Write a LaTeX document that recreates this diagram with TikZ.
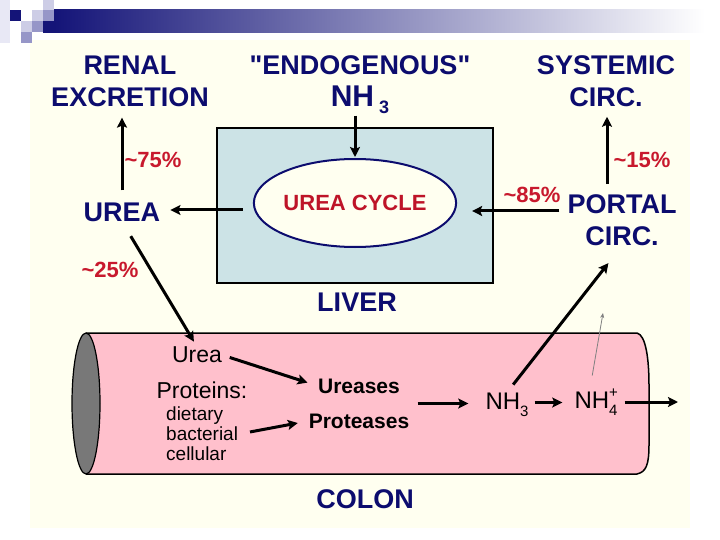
\documentclass[tikz,border=0pt]{standalone}
\usepackage{fontspec}
\setmainfont{Liberation Sans}
\newfontfamily\plainsans{Liberation Sans}
\usetikzlibrary{arrows.meta,shapes.geometric,fit}
\definecolor{navy}{RGB}{12,12,110}
\definecolor{pctred}{RGB}{200,25,45}
\definecolor{cyclered}{RGB}{190,20,40}
\definecolor{cream}{RGB}{255,255,240}
\definecolor{liverblue}{RGB}{204,227,230}
\definecolor{colonpink}{RGB}{255,192,204}
\definecolor{capgray}{RGB}{120,120,120}
\definecolor{logonavy}{RGB}{20,20,120}
\definecolor{logomid}{RGB}{150,150,200}
\definecolor{logolight}{RGB}{205,205,230}
\definecolor{logopale}{RGB}{232,232,245}
\definecolor{barmid}{RGB}{170,170,205}
\begin{document}
\begin{tikzpicture}[x=1pt,y=-1pt,
  big/.style={font=\bfseries\fontsize{27}{32}\selectfont, text=navy, inner sep=0pt, align=center},
  pct/.style={font=\bfseries\fontsize{22}{24}\selectfont, text=pctred, inner sep=0pt},
  inner/.style={font=\fontsize{23}{26}\selectfont, text=black, inner sep=0pt},
  enz/.style={font=\bfseries\fontsize{21}{24}\selectfont, text=black, inner sep=0pt},
  small/.style={font=\fontsize{19}{20}\selectfont, text=black, inner sep=0pt, align=left},
  arr/.style={line width=3pt, -{Stealth[length=10pt,width=10pt,inset=2pt]}},
  thinarr/.style={line width=0.8pt, draw=gray, -{Stealth[length=5pt,width=4pt]}},
]
\useasboundingbox (0,0) rectangle (720,540);
\fill[white] (0,0) rectangle (720,540);
\fill[cream] (30,40) rectangle (690,528);
% logo
\fill[logopale] (0,0) rectangle (10,43);
\fill[logonavy] (10,10) rectangle (21,21);
\fill[logolight] (43,0) rectangle (54,10);
\fill[logolight] (32,10) rectangle (43,21);
\fill[logomid] (43,10) rectangle (54,21);
\fill[logolight] (21,21) rectangle (32,32);
\fill[logomid] (32,21) rectangle (43,32);
\fill[logomid] (21,32) rectangle (32,43);
\fill[logonavy] (43,21) rectangle (55,33);
\shade[left color=logonavy, middle color=barmid, right color=white] (54,10) rectangle (705,33);

% liver
\node[draw=black, line width=2.5pt, fill=liverblue, minimum width=276pt, minimum height=155pt, inner sep=0pt] (liverbox) at (355,205.5) {};
\node[ellipse, draw=navy, line width=2pt, fill=cream, minimum width=190pt, minimum height=88pt, inner sep=0pt,
      font=\bfseries\fontsize{22}{24}\selectfont, text=cyclered] (cycle) at (355,203) {UREA CYCLE};

% colon
\path[fill=colonpink, draw=black, line width=1.5pt] (86,333) -- (637,333)
   .. controls (646,335) and (649,360) .. (649,385) -- (649,445)
   .. controls (649,465) and (646,472) .. (637,474) -- (86,474);
\node[ellipse, draw=black, line width=1.2pt, fill=capgray, minimum width=28pt, minimum height=141pt, inner sep=0pt] (cap) at (86,403.5) {};

% labels
\node[big] (renal) at (130,81) {RENAL\\EXCRETION};
\node[big, font=\plainsans\bfseries\fontsize{27}{32}\selectfont] (endo) at (360,84.3) {"ENDOGENOUS"\\{\fontsize{30}{32}\selectfont NH\,\raisebox{-7pt}{\fontsize{18}{18}\selectfont 3}}};
\node[big] (systemic) at (606,81) {SYSTEMIC\\CIRC.};
\node[big] (urea) at (122,212) {UREA};
\node[big] (portal) at (622,220) {PORTAL\\CIRC.};
\node[big] (liver) at (357,302) {LIVER};
\node[big] (colon) at (365,499) {COLON};

\node[pct] (p75) at (153,160) {\textasciitilde75\%};
\node[pct] (p15) at (642,160) {\textasciitilde15\%};
\node[pct] (p25) at (110,270) {\textasciitilde25\%};
\node[pct] (p85) at (532,195) {\textasciitilde85\%};

\node[inner] (ureac) at (197,355) {Urea};
\node[inner] (proteins) at (202,390) {Proteins:};
\node[small, anchor=north west] (sources) at (166,407) {dietary\\bacterial\\cellular};
\node[enz] (ureases) at (359,386) {Ureases};
\node[enz] (proteases) at (359,421) {Proteases};
\node[fit=(ureases)(proteases), inner sep=0pt] (enzymes) {};
\node[inner, font=\fontsize{24}{26}\selectfont] (nh3) at (507,404.5) {NH\raisebox{-7pt}{\fontsize{15}{15}\selectfont 3}};
\node[inner, font=\fontsize{24}{26}\selectfont] (nh4) at (596,402) {NH\rlap{\raisebox{11pt}{\fontsize{15}{15}\selectfont +}}\raisebox{-7pt}{\fontsize{15}{15}\selectfont 4}};
\coordinate (exit) at (678,402);
\coordinate (nh4up) at (603,313);

% connectors
\draw[arr, shorten <=12pt, shorten >=11pt] (urea.north) -- (urea.north |- renal.south);
\draw[arr, shorten <=10pt, shorten >=10pt] ([yshift=-7pt]cycle.west) -- ([yshift=-7pt]cycle.west -| urea.east);
\draw[arr, shorten <=8pt, shorten >=15pt] ([yshift=-8pt]cycle.east -| portal.west) -- ([yshift=-8pt]cycle.east);
\draw[arr, shorten <=10pt, shorten >=10pt] ([xshift=-15pt]portal.north) -- ([xshift=-15pt]portal.north |- systemic.south);
\draw[arr, shorten <=2pt, shorten >=1pt] (cycle.north |- endo.south) -- (cycle.north);
\draw[arr, shorten <=17pt, shorten >=6pt] (urea.south) -- (ureac.north);
\draw[arr, shorten <=8pt, shorten >=11pt] (ureac.east) -- (ureases.west);
\draw[arr, shorten <=12pt, shorten >=11pt] (sources.east) -- (proteases.west);
\draw[arr, shorten <=8pt, shorten >=17pt] (enzymes.east) -- (enzymes.east -| nh3.west);
\draw[arr, shorten <=6pt, shorten >=12pt] ([yshift=2pt]nh3.east) -- ([yshift=2pt]nh3.east -| nh4.west);
\draw[arr, shorten <=7pt] (nh4.east |- exit) -- (exit);
\draw[arr, shorten <=10pt, shorten >=22pt] (nh3.north) -- (portal.south);
\draw[thinarr, shorten <=13pt] ([xshift=-6pt]nh4.north) -- (nh4up);
\end{tikzpicture}
\end{document}
